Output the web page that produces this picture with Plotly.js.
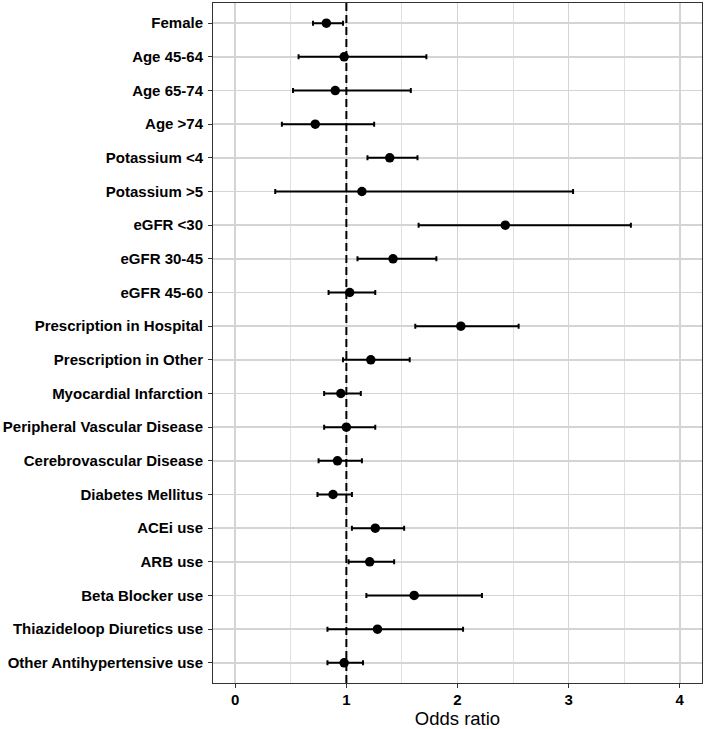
<!DOCTYPE html>
<html>
<head>
<meta charset="utf-8">
<script src="https://cdn.plot.ly/plotly-3.0.1.min.js"></script>
<style>html,body{margin:0;padding:0;background:#fff;}#chart{width:705px;height:729px;}</style>
</head>
<body>
<div id="chart"></div>
<script>
const categories = ["Female","Age 45-64","Age 65-74","Age >74","Potassium <4","Potassium >5","eGFR <30","eGFR 30-45","eGFR 45-60","Prescription in Hospital","Prescription in Other","Myocardial Infarction","Peripheral Vascular Disease","Cerebrovascular Disease","Diabetes Mellitus","ACEi use","ARB use","Beta Blocker use","Thiazideloop Diuretics use","Other Antihypertensive use"];
const oddsRatio = [0.82,0.98,0.90,0.72,1.39,1.14,2.43,1.42,1.03,2.03,1.22,0.95,1.00,0.92,0.88,1.26,1.21,1.61,1.28,0.98];
const lower     = [0.70,0.57,0.52,0.42,1.19,0.36,1.65,1.10,0.84,1.62,0.97,0.80,0.80,0.75,0.74,1.05,1.02,1.18,0.83,0.83];
const upper     = [0.97,1.72,1.58,1.25,1.64,3.04,3.56,1.81,1.26,2.55,1.57,1.13,1.26,1.14,1.05,1.52,1.43,2.22,2.05,1.15];
const xTicks = [0,1,2,3,4];
const refLine = 1;

const trace = {
  type: 'scatter', mode: 'markers',
  x: oddsRatio, y: categories,
  marker: {color: '#000', size: 9.5},
  error_x: {
    type: 'data', symmetric: false,
    array: oddsRatio.map((v,i)=>upper[i]-v),
    arrayminus: oddsRatio.map((v,i)=>v-lower[i]),
    color: '#000', thickness: 2, width: 2.5
  },
  hoverinfo: 'x+y'
};

const layout = {
  width: 705, height: 729,
  margin: {l: 213, r: 3, t: 3, b: 46},
  paper_bgcolor: '#fff', plot_bgcolor: '#fff',
  showlegend: false,
  font: {family: 'Liberation Sans, Arial, sans-serif', color: '#000'},
  xaxis: {
    range: [-0.2, 4.2], tickvals: xTicks, ticktext: xTicks.map(String),
    tickfont: {size: 15, weight: 'bold', color: '#000'},
    ticks: 'outside', ticklen: 4, tickcolor: '#333', tickwidth: 1,
    ticklabelstandoff: -1,
    showgrid: true, gridcolor: '#d4d4d4', gridwidth: 1.6,
    minor: {dtick: 0.5, tick0: 0, showgrid: true, gridcolor: '#e0e0e0', gridwidth: 1},
    zeroline: false, showline: true, mirror: true, linecolor: '#333', linewidth: 1,
    title: {text: 'Odds ratio', font: {size: 18.5, color: '#000'}, standoff: 5}
  },
  yaxis: {
    type: 'category', categoryorder: 'array', categoryarray: categories,
    range: [categories.length - 0.4, -0.6],
    tickfont: {size: 15, weight: 'bold', color: '#000'},
    ticks: 'outside', ticklen: 4, tickcolor: '#333', tickwidth: 1,
    ticklabelstandoff: 2,
    showgrid: true, gridcolor: '#d4d4d4', gridwidth: 1.6,
    zeroline: false, showline: true, mirror: true, linecolor: '#333', linewidth: 1
  },
  shapes: [{
    type: 'line', xref: 'x', yref: 'paper', x0: refLine, x1: refLine, y0: 0, y1: 1,
    line: {color: '#000', width: 2, dash: '8px,4px'}, layer: 'above'
  }]
};

Plotly.newPlot('chart', [trace], layout, {displayModeBar: false, staticPlot: true});
</script>
</body>
</html>
